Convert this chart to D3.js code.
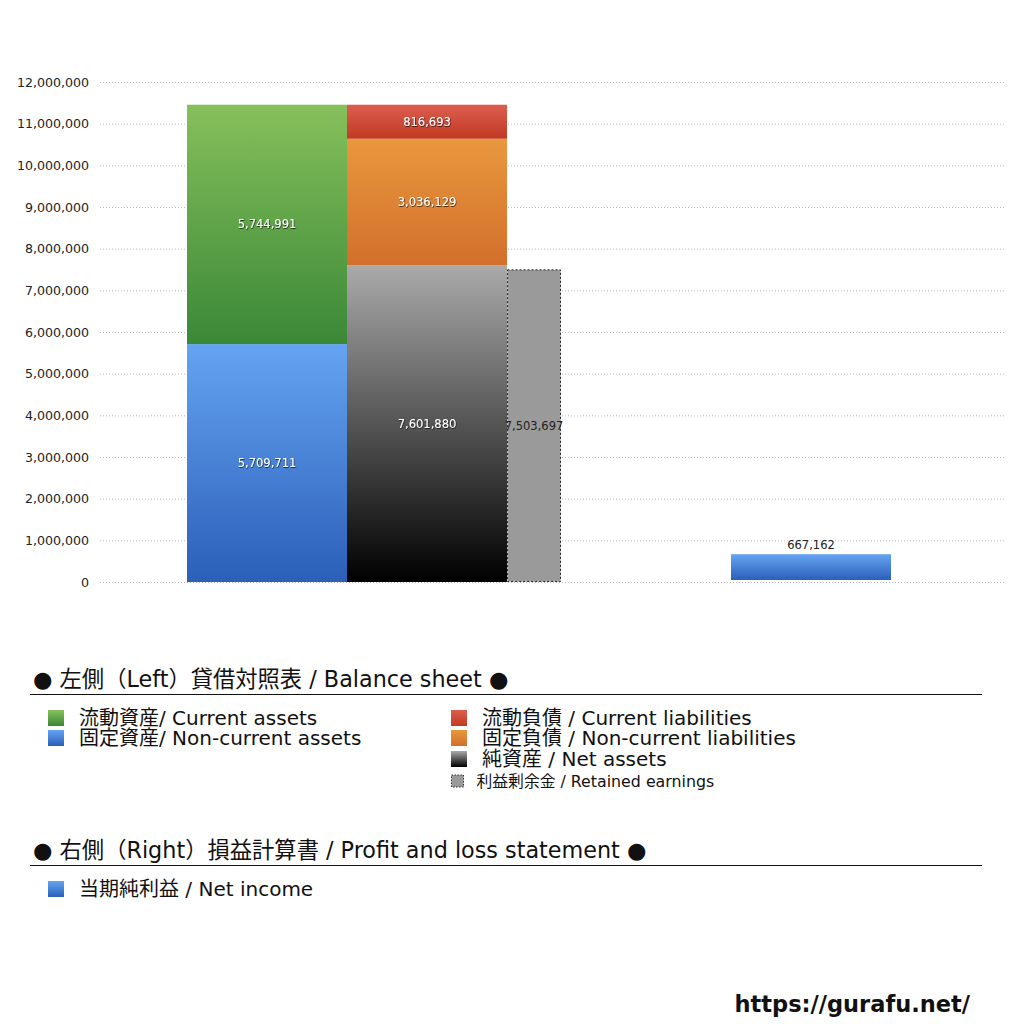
<!DOCTYPE html>
<html><head><meta charset="utf-8">
<script src="https://cdn.jsdelivr.net/npm/d3@7"></script>
<style>
html,body{margin:0;padding:0;background:#fff;}
svg{display:block;}
</style></head>
<body>
<script>
// ---- data ----
const groups = ["BS", "PL"];
const yTicks = [0,1000000,2000000,3000000,4000000,5000000,6000000,7000000,8000000,9000000,10000000,11000000,12000000];
const assetNames = ["固定資産/ Non-current assets", "流動資産/ Current assets"];
const assetValues = [5709711, 5744991];
const liabNames = ["純資産 / Net assets", "固定負債 / Non-current liabilities", "流動負債 /  Current liabilities"];
const liabValues = [7601880, 3036129, 816693];
const retainedName = "利益剰余金 / Retained earnings";
const retainedValue = 7503697;
const plNames = ["当期純利益 / Net income"];
const plValues = [667162];
const heading1 = "● 左側（Left）貸借対照表 / Balance sheet ●";
const heading2 = "● 右側（Right）損益計算書 / Profit and loss statement ●";
const siteUrl = "https://gurafu.net/";

// ---- layout ----
const FONT = "'DejaVu Sans','Noto Sans CJK JP',sans-serif";
const W = 1024, H = 1024;
const svg = d3.select("body").append("svg").attr("width", W).attr("height", H).style("font-family", FONT);
const defs = svg.append("defs");
function grad(id, top, bottom){
  const g = defs.append("linearGradient").attr("id", id).attr("x1",0).attr("y1",0).attr("x2",0).attr("y2",1);
  g.append("stop").attr("offset","0%").attr("stop-color", top);
  g.append("stop").attr("offset","100%").attr("stop-color", bottom);
}
grad("gGreen", "#86c05b", "#3a8837");
grad("gBlue", "#65a4f2", "#2b5fb8");
grad("gRed", "#dc5d50", "#c13a22");
grad("gOrange", "#e9983d", "#d26f2c");
grad("gBlack", "#aaaaaa", "#000000");
const f = defs.append("filter").attr("id","shadow").attr("x","-20%").attr("y","-50%").attr("width","140%").attr("height","200%");
f.append("feDropShadow").attr("dx",0.6).attr("dy",0.8).attr("stdDeviation",0.6).attr("flood-color","#000").attr("flood-opacity",0.8);

const y = d3.scaleLinear().domain([0, 12000000]).range([582, 82]);
const x = d3.scaleBand().domain(groups).range([100, 1005]);
const barW = 160, retW = 54;
const xAssets = x("BS") + 87;
const xLiab = xAssets + barW;
const xRet = xLiab + barW;
const xPL = x("PL") + 178.5;

// grid
const gGrid = svg.append("g");
gGrid.selectAll("line").data(yTicks).join("line")
  .attr("x1", 100).attr("x2", 1005)
  .attr("y1", d => y(d) + 0.5).attr("y2", d => y(d) + 0.5)
  .attr("stroke", "#bbb").attr("stroke-width", 1).attr("stroke-dasharray", "1,2");

// axis labels
const axis = d3.axisLeft(y).tickValues(yTicks).tickFormat(d3.format(",")).tickSize(0).tickPadding(0);
const gAxis = svg.append("g").attr("transform", "translate(89,0)").call(axis);
gAxis.select(".domain").remove();
gAxis.selectAll("text").attr("fill", "#222").style("font-size", "12.6px").style("font-family", FONT);

function stack(vals){ let c = 0; return vals.map(v => { const s = {y0:c, y1:c+v, v}; c += v; return s; }); }

const assetFills = ["url(#gBlue)", "url(#gGreen)"];
const liabFills = ["url(#gBlack)", "url(#gOrange)", "url(#gRed)"];

function drawStack(vals, fills, x0){
  const st = stack(vals);
  const g = svg.append("g");
  g.selectAll("rect").data(st).join("rect")
    .attr("x", x0).attr("width", barW)
    .attr("y", d => y(d.y1)).attr("height", d => y(d.y0) - y(d.y1))
    .attr("fill", (d,i) => fills[i]);
  g.selectAll("text").data(st).join("text")
    .attr("x", x0 + barW/2).attr("y", d => (y(d.y0) + y(d.y1))/2 + 4)
    .attr("text-anchor", "middle").style("font-size", "11.5px").attr("fill", "#fff")
    .attr("filter", "url(#shadow)")
    .text(d => d3.format(",")(d.v));
}
drawStack(assetValues, assetFills, xAssets);
drawStack(liabValues, liabFills, xLiab);

// retained earnings
svg.append("rect").attr("x", xRet + 0.5).attr("width", retW - 1)
  .attr("y", y(retainedValue) + 0.5).attr("height", y(0) - y(retainedValue) - 1)
  .attr("fill", "#9a9a9a").attr("stroke", "#222").attr("stroke-width", 1).attr("stroke-dasharray", "2,2");
svg.append("text").attr("x", xRet + retW/2).attr("y", (y(0)+y(retainedValue))/2 + 4)
  .attr("text-anchor", "middle").style("font-size", "11.5px").attr("fill", "#222")
  .text(d3.format(",")(retainedValue));

// P&L
const gPL = svg.append("g");
gPL.selectAll("rect").data(plValues).join("rect")
  .attr("x", xPL).attr("width", barW).attr("y", d => y(d)).attr("height", d => y(0) - y(d) - 2)
  .attr("fill", "url(#gBlue)");
gPL.selectAll("text").data(plValues).join("text")
  .attr("x", xPL + barW/2).attr("y", d => y(d) - 5)
  .attr("text-anchor", "middle").style("font-size", "11.5px").attr("fill", "#222")
  .text(d => d3.format(",")(d));

// legends
function heading(txt, yb, yl){
  svg.append("text").attr("x", 33).attr("y", yb).style("font-size", "22.3px").attr("fill", "#111").text(txt);
  svg.append("line").attr("x1", 30).attr("x2", 982).attr("y1", yl).attr("y2", yl).attr("stroke", "#111").attr("stroke-width", 1);
}
heading(heading1, 687, 694.5);
heading(heading2, 858, 865.5);

function item(xs, yc, fill, label, size, fs, dashed){
  const r = svg.append("rect").attr("x", xs).attr("y", yc - size/2).attr("width", size).attr("height", size).attr("fill", fill);
  if (dashed) r.attr("stroke", "#333").attr("stroke-dasharray", "1.5,1.5").attr("stroke-width", 1);
  svg.append("text").attr("x", xs + (dashed ? 25 : 31)).attr("y", yc + fs*0.36).style("font-size", fs + "px").attr("fill", "#111").text(label);
}
item(48, 718, assetFills[1], assetNames[1], 16, 20);
item(48, 738, assetFills[0], assetNames[0], 16, 20);
item(451, 718, liabFills[2], liabNames[2], 16, 20);
item(451, 738, liabFills[1], liabNames[1], 16, 20);
item(451, 759, liabFills[0], liabNames[0], 16, 20);
item(451.5, 781, "#9a9a9a", retainedName, 12, 15.8, true);
item(48, 889, "url(#gBlue)", plNames[0], 16, 20);

svg.append("text").attr("x", 970).attr("y", 1012).attr("text-anchor", "end")
  .style("font-size", "22.5px").style("font-weight", "bold").attr("fill", "#111")
  .text(siteUrl);
</script>
</body></html>
